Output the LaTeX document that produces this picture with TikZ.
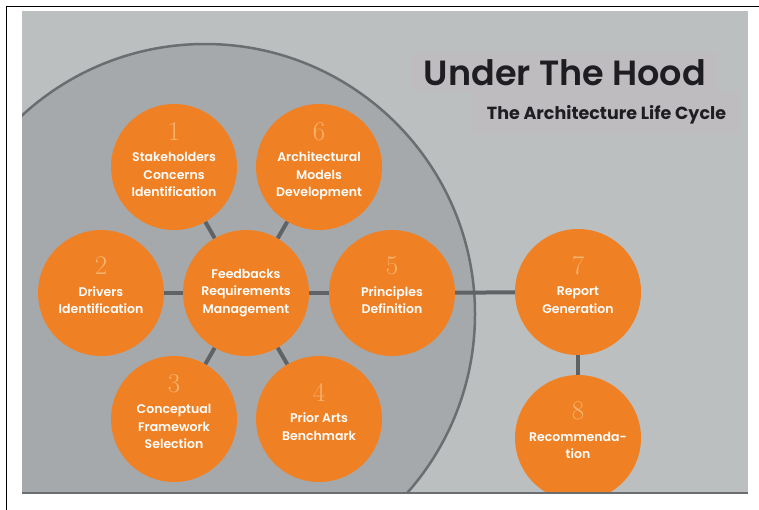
\documentclass[tikz,border=0pt]{standalone}
\usepackage{fontspec}
\usepackage{tikz}
\usetikzlibrary{positioning}
\usepackage{xcolor}
\newfontfamily\stagefont{Poppins SemiBold}
\newfontfamily\titlefont{Poppins SemiBold}
\newfontfamily\subtitlefont{Poppins Bold}
\definecolor{panelgray}{HTML}{BBBFC0}
\definecolor{cyclegray}{HTML}{A5A9AC}
\definecolor{cycleedge}{HTML}{6B6E71}
\definecolor{stageorange}{HTML}{EF8124}
\definecolor{numorange}{HTML}{F8B46E}
\definecolor{linkgray}{HTML}{5F6366}
\definecolor{titlebox}{HTML}{BFBCBF}
\definecolor{titleink}{HTML}{1E1E22}
\newcommand{\stagenum}[1]{{\rmfamily\fontsize{27}{27}\selectfont\color{numorange}#1}}

\begin{document}
\begin{tikzpicture}[
				x=1pt, y=-1pt,
				stage/.style={circle, fill=stageorange, minimum size=126pt, inner sep=0pt, align=center, text=white, font=\stagefont\fontsize{12.5}{17.5}\selectfont},
				numstage/.style={stage, text depth=15pt},
				link/.style={linkgray, line width=4pt},
				heading/.style={fill=titlebox, text=titleink, inner sep=0pt, text depth=0pt}
			]
			\useasboundingbox (0,0) rectangle (759,509);
			\fill[panelgray] (22,11) rectangle (748,493);
			\draw[black, line width=1.5pt] (6.5,515) -- (6.5,6.5) -- (765,6.5);
			\begin{scope}
				\clip (22,11) rectangle (748,493);
				\filldraw[fill=cyclegray, draw=cycleedge, line width=2.5pt] (205,314) circle (270);
				\node[stage] (c) at (246,293) {Feedbacks\\Requirements\\Management};
				\node[numstage] (s1) at (174,167) {\stagenum{1}\\[4pt]Stakeholders\\Concerns\\Identification};
				\node[numstage] (s2) at (101,293) {\stagenum{2}\\[4pt]Drivers\\Identification};
				\node[numstage] (s3) at (174,419) {\stagenum{3}\\[4pt]Conceptual\\Framework\\Selection};
				\node[numstage] (s4) at (319,419) {\stagenum{4}\\[4pt]Prior Arts\\Benchmark};
				\node[numstage] (s5) at (392,293) {\stagenum{5}\\[4pt]Principles\\Definition};
				\node[numstage] (s6) at (319,167) {\stagenum{6}\\[4pt]Architectural\\Models\\Development};
				\node[numstage] (s7) at (578,292) {\stagenum{7}\\[4pt]Report\\Generation};
				\node[numstage] (s8) at (578,438) {\stagenum{8}\\[4pt]Recommenda-\\tion};
			\end{scope}
			\draw[cycleedge, line width=2.5pt] (22,493) -- (748,493);
			\draw[link] (c) -- (s1);
			\draw[link] (c) -- (s2);
			\draw[link] (c) -- (s3);
			\draw[link] (c) -- (s4);
			\draw[link] (c) -- (s5);
			\draw[link] (c) -- (s6);
			\draw[link] (s5) -- (s7);
			\draw[link] (s7) -- (s8);
			% title block
			\node[heading, minimum width=306pt, minimum height=39pt, font=\titlefont\fontsize{35}{35}\selectfont] (title) at (565,72.5) {Under The Hood};
			\node[heading, minimum width=267pt, minimum height=41pt, font=\subtitlefont\fontsize{17.5}{17.5}\selectfont] (subtitle) at (606.5,112.5) {The Architecture Life Cycle};
		\end{tikzpicture}
\end{document}
